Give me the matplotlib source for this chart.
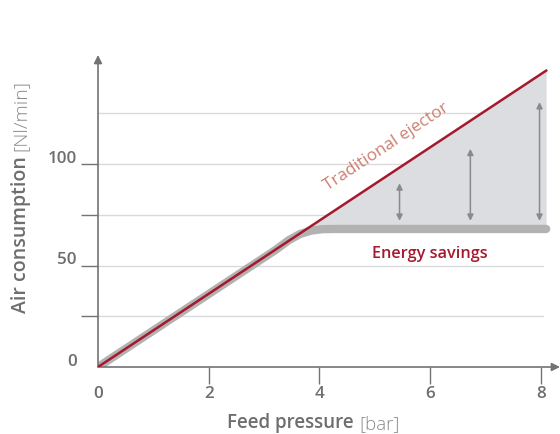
import numpy as np
import matplotlib
matplotlib.use('Agg')
import matplotlib.pyplot as plt

# data
trad_x = [0, 8.1]
trad_y = [0, 146]
save_x = [0, 3.2, 3.45, 3.65, 3.85, 4.05, 4.3, 8.1]
save_y = [0, 57.5, 62.5, 65.5, 67.2, 67.9, 68.0, 68.0]
arrow_x = [5.45, 6.73, 7.98]
arrow_top = [90.5, 107.5, 130.5]
arrow_bottom = [72, 72, 72]
xticks = [0, 2, 4, 6, 8]
yticks = [0, 50, 100]
minor_y = [25, 75]
grid_y = [25, 50, 75, 100, 125]

RED = '#a5192e'
GRAY_LINE = '#b2b2b2'
FILL = '#dcdde0'
AXIS = '#737373'
TXT = '#6e6e6e'
FONT = 'Open Sans'

plt.rcParams['font.family'] = [FONT, 'DejaVu Sans']

fig = plt.figure(figsize=(5.6, 4.34), dpi=100)
ax = fig.add_axes([98 / 560, 67 / 434, 462 / 560, 312 / 434])
ax.set_xlim(0, 8.35)
ax.set_ylim(0, 153.7)

for g in grid_y:
    ax.plot([0, 8.05], [g, g], color='#dadada', lw=1, zorder=1)

# shaded savings area
fx = np.array([x for x in save_x if x >= 3.6])
fy_top = np.interp(fx, trad_x, trad_y)
fy_bot = np.interp(fx, save_x, save_y)
ax.fill_between(fx, fy_bot, fy_top, color=FILL, lw=0, zorder=2)

ax.plot(save_x, save_y, color=GRAY_LINE, lw=6, solid_capstyle='round',
        solid_joinstyle='round', zorder=3)
ax.plot(trad_x, trad_y, color=RED, lw=1.8, zorder=4)

for x, t, b in zip(arrow_x, arrow_top, arrow_bottom):
    ax.annotate('', xy=(x, t), xytext=(x, b),
                arrowprops=dict(arrowstyle='<|-|>', color='#8a8a8a', lw=1.1,
                                mutation_scale=9, shrinkA=0, shrinkB=0),
                zorder=5)

ax.text(5.22, 108.5, 'Traditional ejector', color='#cc7f70', fontsize=12.3,
        rotation=33.5, ha='center', va='center', rotation_mode='anchor')
ax.text(6.0, 55.5, 'Energy savings', color=RED, fontsize=11.7,
        fontweight='semibold', ha='center', va='center')

# axes with arrow heads
for s in ax.spines.values():
    s.set_visible(False)
ax.annotate('', xy=(1.0, 0), xytext=(0, 0), xycoords='axes fraction',
            arrowprops=dict(arrowstyle='-|>', color=AXIS, lw=1.2,
                            mutation_scale=12, shrinkA=0, shrinkB=0),
            annotation_clip=False)
ax.annotate('', xy=(0, 1.0), xytext=(0, 0), xycoords='axes fraction',
            arrowprops=dict(arrowstyle='-|>', color=AXIS, lw=1.2,
                            mutation_scale=12, shrinkA=0, shrinkB=0),
            annotation_clip=False)

ax.set_xticks(xticks[1:])
ax.set_xticklabels([])
ax.set_yticks(minor_y + yticks[1:])
ax.set_yticklabels([])
ax.tick_params(axis='both', length=12, width=1, color=AXIS, direction='out')

for x in xticks:
    ax.text(x, -13.5, str(x), color=TXT, fontsize=12.3, fontweight='semibold',
            ha='center', va='center')
for y in yticks:
    ax.text(-0.38, y + 2.6, str(y), color=TXT, fontsize=12.3, fontweight='semibold',
            ha='right', va='center')

# axis titles, bold part plus light unit
fig.text(0.641, 0.002, 'Feed pressure ', color=TXT, fontsize=13.5,
         fontweight='semibold', ha='right', va='bottom')
fig.text(0.641, 0.002, '[bar]', color='#8a8a8a', fontsize=13.5,
         fontweight='light', ha='left', va='bottom')
fig.text(0.02, 0.652, 'Air consumption ', color=TXT, fontsize=14,
         fontweight='semibold', rotation=90, ha='left', va='top')
fig.text(0.02, 0.652, '[Nl/min]', color='#8a8a8a', fontsize=14,
         fontweight='light', rotation=90, ha='left', va='bottom')

fig.savefig('out.png', dpi=100)
